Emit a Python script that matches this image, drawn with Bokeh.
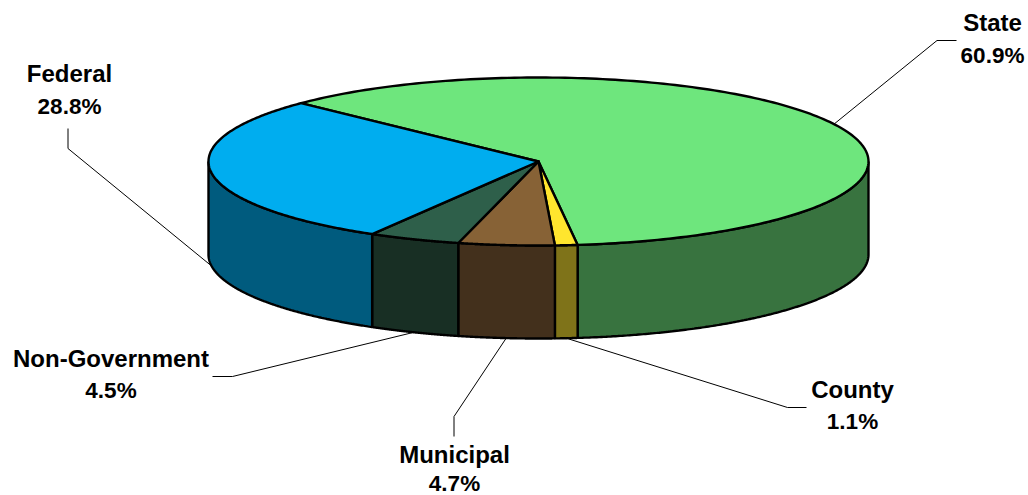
import numpy as np
from bokeh.plotting import figure
from bokeh.models import Range1d
from bokeh.core.properties import value
from bokeh.embed import file_html
from bokeh.resources import INLINE

# Share of the total per category, clockwise from the Federal/State boundary
categories = ["State", "County", "Municipal", "Non-Government", "Federal"]
shares = [60.9, 1.1, 4.7, 4.5, 28.8]
top_colors = ["#6EE67D", "#FFE52E", "#876236", "#2E5F4A", "#00ADEF"]
side_colors = ["#38733F", "#7F7319", "#43301C", "#182F24", "#005B7E"]

# Pie geometry in page pixels
CX, CY, RX, RY, DEPTH = 538, 161, 330, 84, 93
START_DEG = 136.05

# Label centres and the elbow of each leader line
label_pos = {
    "State": (992, 22, 55),
    "County": (852, 389, 421),
    "Municipal": (454, 454, 482.5),
    "Non-Government": (110.5, 358, 390),
    "Federal": (69, 73, 106),
}
leader_elbow = {
    "State": [(956, 40), (936.5, 40)],
    "County": [(806, 407), (787, 407)],
    "Municipal": [(453.5, 436), (453.5, 416)],
    "Non-Government": [(212, 376), (232, 376)],
    "Federal": [(67.5, 128), (67.5, 148)],
}

p = figure(width=1028, height=495, output_backend="svg", toolbar_location=None,
           x_range=Range1d(0, 1028), y_range=Range1d(495, 0),
           min_border=0, outline_line_color=None, background_fill_color="white")
p.axis.visible = False
p.grid.visible = False


def rim(a0, a1, n=200):
    t = np.radians(np.linspace(a0, a1, n))
    return CX + RX * np.cos(t), CY - RY * np.sin(t)


# Slice boundaries in degrees, walking clockwise
edges = START_DEG - np.cumsum([0] + shares) * 3.6
OUT = 2.4

# Outer wall: only the part of each slice on the near half of the rim is visible
for i, name in enumerate(categories):
    a0, a1 = edges[i], edges[i + 1]
    spans = []
    for lo, hi in [(-180, 0), (-540, -360)]:
        s0, s1 = min(a0, hi), max(a1, lo)
        if s0 > s1:
            spans.append((s0, s1))
    for s0, s1 in spans:
        x, y = rim(s0, s1)
        xs = np.concatenate([x, x[::-1]])
        ys = np.concatenate([y, (y + DEPTH)[::-1]])
        p.patch(xs, ys, fill_color=side_colors[i], line_color="black", line_width=OUT)

# Top faces
for i, name in enumerate(categories):
    x, y = rim(edges[i], edges[i + 1])
    xs = np.concatenate([[CX], x])
    ys = np.concatenate([[CY], y])
    p.patch(xs, ys, fill_color=top_colors[i], line_color="black", line_width=OUT,
            line_join="round")

# Leader lines run from the middle of each slice's rim to the label
for i, name in enumerate(categories):
    mid = np.radians((edges[i] + edges[i + 1]) / 2)
    ax = CX + RX * np.cos(mid)
    ay = CY - RY * np.sin(mid)
    if np.sin(mid) < 0:
        ay += DEPTH
    pts = leader_elbow[name] + [(ax, ay)]
    p.line([q[0] for q in pts], [q[1] for q in pts], line_color="black", line_width=1)

# Two-line labels: category name over its share
for name, share in zip(categories, shares):
    lx, y1, y2 = label_pos[name]
    p.text([lx], [y1], text=[name],
           text_font=value("Liberation Sans"), text_font_style="bold",
           text_font_size="24px", text_color="black",
           text_align="center", text_baseline="middle")
    p.text([lx], [y2], text=[f"{share}%"],
           text_font=value("Liberation Sans"), text_font_style="bold",
           text_font_size="22.5px", text_color="black",
           text_align="center", text_baseline="middle")

open("out.html", "w").write(file_html(p, INLINE))
